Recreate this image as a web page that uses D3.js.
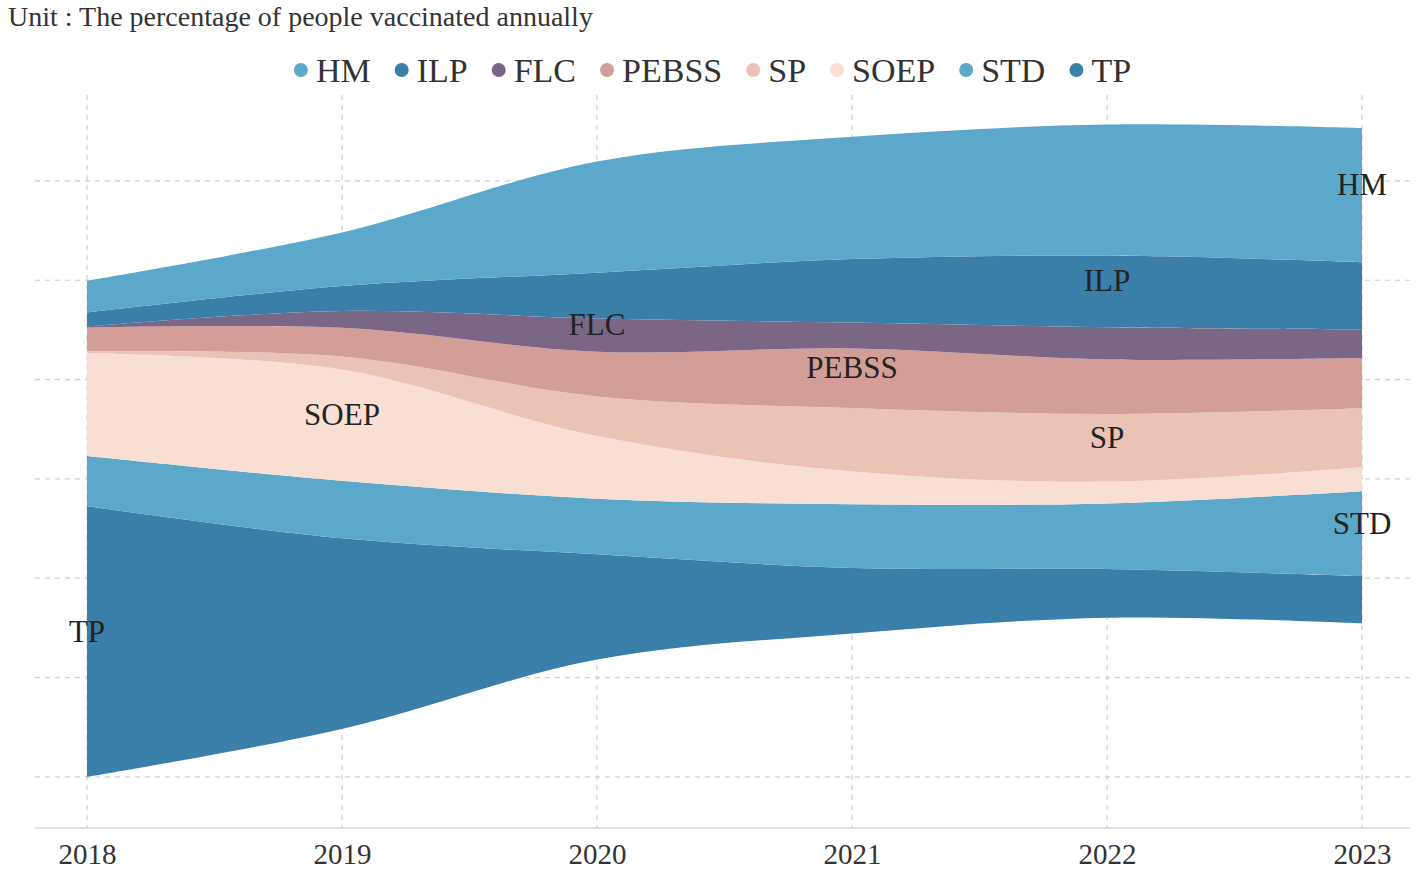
<!DOCTYPE html>
<html>
<head>
<meta charset="utf-8">
<script src="https://cdn.jsdelivr.net/npm/d3@7"></script>
<style>
  body { margin: 0; background: #fff; }
  svg { display: block; font-family: "Liberation Serif", "Times New Roman", serif; }
</style>
</head>
<body>
<div id="chart"></div>
<script>
// values (share of people, per year)
const years = [2018, 2019, 2020, 2021, 2022, 2023];
const categories = ["HM", "ILP", "FLC", "PEBSS", "SP", "SOEP", "STD", "TP"];
const colors = ["#5ca8cb", "#3a7eaa", "#7b6785", "#d39e97", "#eac2b6", "#f9dfd3", "#5ca8cb", "#3a7eaa"];

const HM    = [6.4, 10.8, 22.4, 24.6, 26.4, 27.0];
const ILP   = [2.8, 5.0, 9.2, 12.8, 14.4, 13.5];
const FLC   = [0.2, 3.4, 6.7, 5.2, 6.5, 5.8];
const PEBSS = [4.8, 5.8, 9.0, 12.0, 11.0, 10.1];
const SP    = [0.4, 2.6, 8.0, 12.8, 13.6, 11.9];
const SOEP  = [20.7, 22.4, 12.6, 6.6, 4.4, 4.8];
const STD   = [10.1, 11.6, 11.2, 12.8, 13.2, 17.1];
const TP    = [54.5, 38.4, 21.2, 13.2, 9.8, 9.5];

const yTicks = [0, 20, 40, 60, 80, 100, 120];
const title = "Unit : The percentage of people vaccinated annually";

function init() {
    const w = 1417;
    const h = 871;

    const seriesValues = { HM, ILP, FLC, PEBSS, SP, SOEP, STD, TP };
    const table = years.map((yr, i) => {
        const row = { year: yr };
        categories.forEach(c => { row[c] = seriesValues[c][i]; });
        return row;
    });
    const color = d3.scaleOrdinal().domain(categories).range(colors);

    const svg = d3.select("#chart")
        .append("svg")
        .attr("width", w)
        .attr("height", h);

    const xScale = d3.scaleLinear()
        .domain([2018, 2023])
        .range([87, 1362]);

    const yScale = d3.scaleLinear()
        .domain([-10.3, 137.3])
        .range([828, 95]);

    // grid
    svg.append("g")
        .selectAll("line")
        .data(yTicks)
        .enter()
        .append("line")
        .attr("x1", 35)
        .attr("x2", 1410)
        .attr("y1", d => yScale(d))
        .attr("y2", d => yScale(d))
        .attr("stroke", "#cfcfcf")
        .attr("stroke-width", 1.2)
        .attr("stroke-dasharray", "5,5");

    svg.append("g")
        .selectAll("line")
        .data(years)
        .enter()
        .append("line")
        .attr("x1", d => xScale(d))
        .attr("x2", d => xScale(d))
        .attr("y1", 95)
        .attr("y2", 828)
        .attr("stroke", "#cfcfcf")
        .attr("stroke-width", 1.2)
        .attr("stroke-dasharray", "5,5");

    // stream layers, TP at the bottom
    const stack = d3.stack()
        .keys(categories.slice().reverse())
        .order(d3.stackOrderNone)
        .offset(d3.stackOffsetWiggle);
    const layers = stack(table);

    const area = d3.area()
        .x(d => xScale(d.data.year))
        .y0(d => yScale(d[0]))
        .y1(d => yScale(d[1]))
        .curve(d3.curveCatmullRom.alpha(0.5));

    svg.append("g")
        .selectAll("path")
        .data(layers)
        .enter()
        .append("path")
        .attr("d", area)
        .attr("fill", d => color(d.key));

    // labels at each layer's widest year
    svg.append("g")
        .selectAll("text")
        .data(layers)
        .enter()
        .append("text")
        .attr("x", d => xScale(years[d3.maxIndex(seriesValues[d.key])]))
        .attr("y", d => {
            const p = d[d3.maxIndex(seriesValues[d.key])];
            return yScale((p[0] + p[1]) / 2);
        })
        .attr("text-anchor", "middle")
        .attr("font-size", "31px")
        .attr("fill", "#222")
        .text(d => d.key);

    // x axis
    svg.append("line")
        .attr("x1", 35)
        .attr("x2", 1410)
        .attr("y1", 828)
        .attr("y2", 828)
        .attr("stroke", "#c8c8c8")
        .attr("stroke-width", 1.2);

    const xAxis = svg.append("g")
        .attr("transform", "translate(0,828)")
        .call(d3.axisBottom(xScale).tickValues(years).tickFormat(d3.format("d")).tickSize(0).tickPadding(15));
    xAxis.select(".domain").remove();
    xAxis.selectAll("text")
        .attr("font-family", "Liberation Serif")
        .attr("font-size", "29px")
        .attr("fill", "#333");

    // title
    svg.append("text")
        .attr("x", 8)
        .attr("y", 26)
        .attr("font-size", "28px")
        .attr("fill", "#333")
        .text(title);

    // legend
    const legend = svg.append("g");
    const items = legend.selectAll("g")
        .data(categories)
        .enter()
        .append("g");
    items.append("circle")
        .attr("r", 7)
        .attr("cy", 70)
        .attr("fill", d => color(d));
    items.append("text")
        .attr("y", 82)
        .attr("font-size", "34px")
        .attr("fill", "#333")
        .text(d => d);

    let pos = 0;
    const offsets = [];
    items.each(function() {
        const tw = d3.select(this).select("text").node().getComputedTextLength();
        offsets.push(pos);
        pos += 15 + tw + 31;
    });
    const total = pos - 31;
    const start = 709 - total / 2;
    items.each(function(d, i) {
        const g = d3.select(this);
        g.select("circle").attr("cx", start + offsets[i] + 7);
        g.select("text").attr("x", start + offsets[i] + 22);
    });
}

window.onload = init;
</script>
</body>
</html>
